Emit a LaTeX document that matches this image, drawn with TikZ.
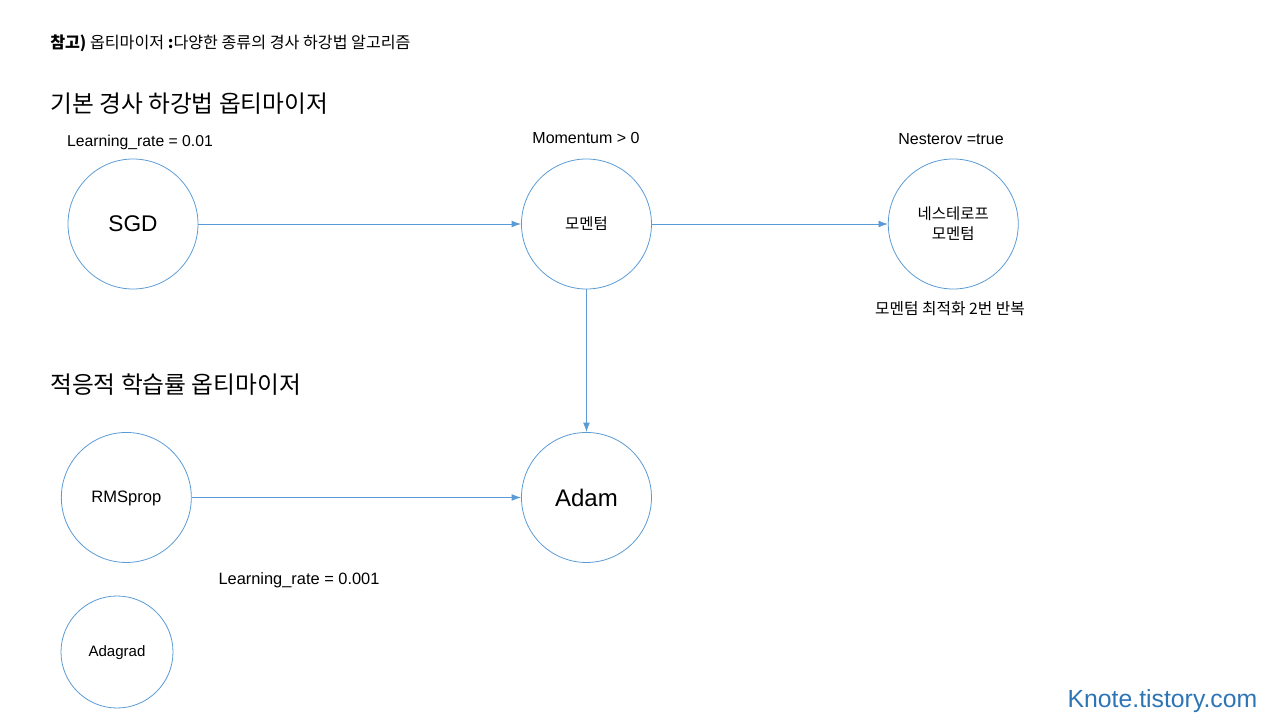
\documentclass[tikz,border=0pt]{standalone}
\usepackage{fontspec}
\setmainfont{Liberation Sans}
\newfontfamily\kr{Noto Sans CJK KR}
\usetikzlibrary{positioning,arrows.meta}
\definecolor{ringblue}{RGB}{91,155,213}
\definecolor{siteblue}{RGB}{46,117,182}
\newcommand{\fsz}[1]{\fontsize{#1}{1.2\dimexpr#1\relax}\selectfont}

\begin{document}
\begin{tikzpicture}[x=0.75pt,y=-0.75pt,>={Latex[length=7pt,width=5pt]},
    font=\fsz{11.8pt}]

\tikzstyle{round}=[draw=ringblue,line width=0.6pt,circle,minimum size=97.5pt,inner sep=0pt,align=center]
\tikzstyle{link}=[->,draw=ringblue,line width=0.6pt]

\useasboundingbox (0,0) rectangle (1280,720);

    % headings
    \node[anchor=west,inner sep=0pt,font=\kr\fsz{12.1pt}] (title) at (50,43) {{\bfseries 참고)} 옵티마이저 {\bfseries :}다양한 종류의 경사 하강법 알고리즘};
    \node[anchor=west,inner sep=0pt,font=\kr\fsz{17.8pt}] (basic) at (50,104) {기본 경사 하강법 옵티마이저};
    \node[anchor=west,inner sep=0pt,font=\kr\fsz{17.8pt}] (adapt) at (50,385) {적응적 학습률 옵티마이저};

    % optimizers
    \node[round,font=\fsz{17pt}] (SGD) at (133,224) {SGD};
    \node[round,right=242pt of SGD,font=\kr\fsz{11.6pt}] (M) {모멘텀};
    \node[round,right=177pt of M,font=\kr\fsz{11.6pt}] (N) {네스테로프\\[1pt]모멘텀};
    \node[round,below=107pt of M,font=\fsz{18pt}] (A) {Adam};
    \node[round,left=247pt of A,font=\fsz{12.4pt},text depth=1pt] (R) {RMSprop};
    \node[round,minimum size=84pt,font=\fsz{11.3pt},text depth=1pt] (G) at (117,652) {Adagrad};

    % labels
    \node (lr1) at (140,142) {Learning\_rate = 0.01};
    \node[font=\fsz{12pt}] (mom) at (586,138) {Momentum > 0};
    \node[font=\fsz{12pt}] (nes) at (951,139) {Nesterov =true};
    \node[font=\kr\fsz{11.8pt}] (rep) at (950,309) {모멘텀 최적화 2번 반복};
    \node[font=\fsz{12.3pt}] (lr2) at (299,580) {Learning\_rate = 0.001};
    \node[anchor=east,text=siteblue,font=\fsz{18.6pt}] (site) at (1262,701) {Knote.tistory.com};

\path
    (SGD) edge[link] (M)
    (M) edge[link] (N)
    (M) edge[link] (A)
    (R) edge[link] (A);
\end{tikzpicture}
\end{document}
